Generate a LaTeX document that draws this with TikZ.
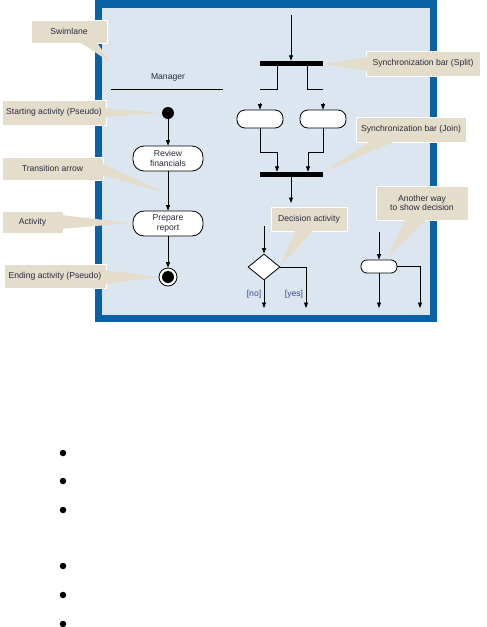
\documentclass[tikz,border=0pt]{standalone}
\usepackage{fontspec}
\setmainfont{Liberation Sans}
\usetikzlibrary{shapes.geometric,arrows.meta}
\definecolor{frameblue}{HTML}{0A62A6}
\definecolor{lanefill}{HTML}{DCE6F1}
\definecolor{beige}{HTML}{E4DDCB}
\definecolor{txt}{HTML}{2A2A3E}
\definecolor{lbl}{HTML}{3A4A8A}
\begin{document}
\begin{tikzpicture}[x=1pt,y=-1pt,
  font=\fontsize{8.6}{9.8}\selectfont,
  >={Triangle[length=5.5pt,width=4pt]},
  flow/.style={draw=black, line width=0.8pt},
  actbox/.style={draw=black, line width=0.8pt, fill=white, align=center, text=txt, inner sep=0pt},
  callout/.style={fill=beige, draw=white, line width=1pt, text=txt, align=center, inner sep=0pt},
  wedge/.style={fill=beige},
  barnode/.style={fill=black, minimum width=63pt, minimum height=5pt, inner sep=0pt},
  bullet/.style={circle, fill=black, minimum size=6.5pt, inner sep=0pt}]
\useasboundingbox (0,0) rectangle (487,627);
% frame
\fill[frameblue] (95,0) rectangle (437,322);
\fill[lanefill] (102,8) rectangle (430,315);
% callouts
\node[callout, minimum width=76pt, minimum height=23pt] (cswim) at (69,31.5) {Swimlane};
\fill[wedge] (78,41) -- (96,41) -- (110,62) -- cycle;
\node[callout, minimum width=104pt, minimum height=25pt] (cstart) at (54,112.5) {Starting activity (Pseudo)};
\fill[wedge] (104,108) -- (104,117) -- (160,113) -- cycle;
\node[callout, minimum width=101pt, minimum height=23pt] (ctrans) at (52.5,168.5) {Transition arrow};
\fill[wedge] (101,163) -- (101,175) -- (166,193) -- cycle;
\node[callout, minimum width=61pt, minimum height=22pt] (cact) at (32.5,222) {Activity};
\fill[wedge] (61,215) -- (61,229) -- (130,223) -- cycle;
\node[callout, minimum width=102pt, minimum height=24pt] (cend) at (55,276) {Ending activity (Pseudo)};
\fill[wedge] (104,270) -- (104,284) -- (158,277) -- cycle;
\node[callout, minimum width=114pt, minimum height=25pt] (csplit) at (423,63.5) {Synchronization bar (Split)};
\fill[wedge] (368,57) -- (368,71) -- (323,64) -- cycle;
\node[callout, minimum width=110pt, minimum height=25pt] (cjoin) at (411,129.5) {Synchronization bar (Join)};
\fill[wedge] (372,140) -- (398,140) -- (323,172) -- cycle;
\node[callout, minimum width=76pt, minimum height=24pt] (cdec) at (309,219) {Decision activity};
\fill[wedge] (296,229) -- (314,229) -- (280,267) -- cycle;
\node[callout, minimum width=92pt, minimum height=34pt] (canother) at (422,203) {Another way\\to show decision};
\fill[wedge] (406,218) -- (428,218) -- (387,258) -- cycle;
% manager lane
\node[text=txt] (mgr) at (168,77) {Manager};
\coordinate (ml) at (111,89);
\coordinate (mr) at (223,89);
\draw[line width=0.8pt] (ml) -- (mr);
\node[circle, fill=black, minimum size=12pt, inner sep=0pt] (start) at (168,113) {};
\node[actbox, minimum width=70pt, minimum height=25pt, rounded corners=11pt] (review) at (168,158.5) {Review\\financials};
\node[actbox, minimum width=70pt, minimum height=25pt, rounded corners=11pt] (prepare) at (168,223.5) {Prepare\\report};
\node[circle, draw=black, line width=0.8pt, fill=white, minimum size=18pt, inner sep=0pt] (endo) at (168,277) {};
\node[circle, fill=black, minimum size=12pt, inner sep=0pt] (endi) at (168,277) {};
\draw[flow,->] (start) -- (review);
\draw[flow,->] (review) -- (prepare);
\draw[flow,->] (prepare) -- (endo);
% split / join
\coordinate (topin) at (291,15);
\node[barnode] (split) at (291,63.5) {};
\draw[flow,->] (topin) -- (split);
\coordinate (sl) at (277,89);
\coordinate (sr) at (307,89);
\coordinate (sle) at (260,89);
\coordinate (sre) at (323,89);
\draw[flow] (split.south -| sl) -- (sl) -- (sle);
\draw[flow] (split.south -| sr) -- (sr) -- (sre);
\node[actbox, minimum width=46pt, minimum height=18pt, rounded corners=8pt] (boxl) at (260,119) {};
\node[actbox, minimum width=46pt, minimum height=18pt, rounded corners=8pt] (boxr) at (323,119) {};
\coordinate (al) at (260,103);
\coordinate (ar) at (323,103);
\draw[flow,->] (al) -- (boxl);
\draw[flow,->] (ar) -- (boxr);
\node[barnode] (join) at (291,174.5) {};
\coordinate (jl) at (277,152);
\coordinate (jr) at (308,152);
\draw[flow,->] (boxl) |- (jl) -- (join.north -| jl);
\draw[flow,->] (boxr) |- (jr) -- (join.north -| jr);
\coordinate (jout) at (291,203);
\draw[flow,->] (join) -- (jout);
% decision
\node[diamond, draw=black, line width=0.8pt, fill=white, minimum width=32pt, minimum height=26pt, inner sep=0pt] (dec) at (264,267) {};
\coordinate (din) at (264,226);
\draw[flow,->] (din) -- (dec);
\coordinate (dno) at (264,308);
\coordinate (dyc) at (306,267);
\coordinate (dyes) at (306,308);
\draw[flow,->] (dec.south) -- (dno);
\draw[flow,->] (dec.east) -- (dyc) -- (dyes);
\node[text=lbl] (lno) at (254,294) {[no]};
\node[text=lbl] (lyes) at (294,294) {[yes]};
% another way
\node[actbox, minimum width=36pt, minimum height=13pt, rounded corners=6pt] (alt) at (379,266.5) {};
\coordinate (ain) at (379,232);
\draw[flow,->] (ain) -- (alt);
\coordinate (a1) at (379,308);
\coordinate (a2c) at (420,266.5);
\coordinate (a2) at (420,308);
\draw[flow,->] (alt.south) -- (a1);
\draw[flow,->] (alt.east) -- (a2c) -- (a2);
% bullets
\node[bullet] (b1) at (63,453) {};
\node[bullet] (b2) at (63,481) {};
\node[bullet] (b3) at (63,510) {};
\node[bullet] (b4) at (63,566) {};
\node[bullet] (b5) at (63,595) {};
\node[bullet] (b6) at (63,624) {};
\end{tikzpicture}
\end{document}
